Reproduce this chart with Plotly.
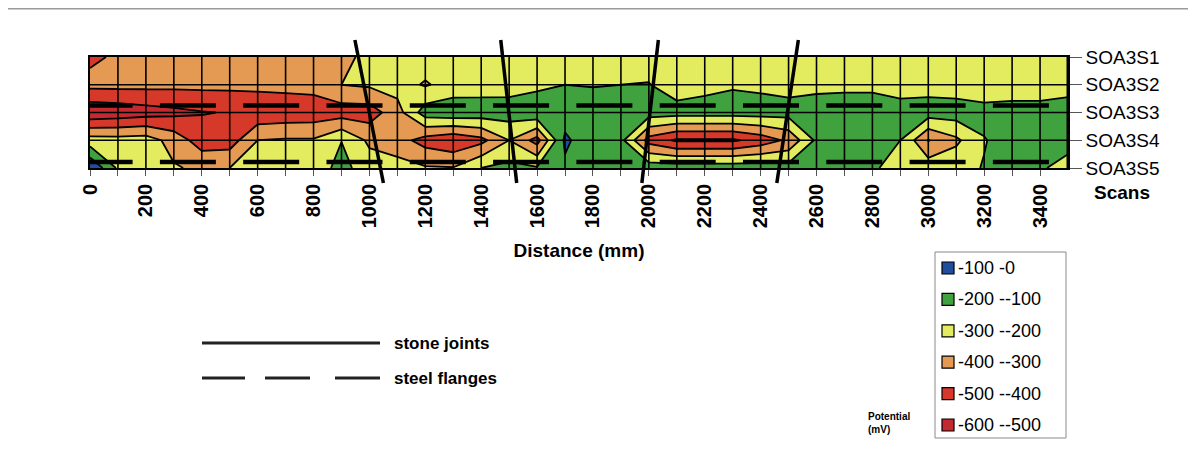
import plotly.graph_objects as go

# ---------------- data ----------------
distance_mm = [i * 100 for i in range(36)]          # 0 .. 3500
scan_pos = [1, 2, 3, 4, 5]
scan_labels = ["SOA3S1", "SOA3S2", "SOA3S3", "SOA3S4", "SOA3S5"]

soa3s1 = [-420, -385, -360, -360, -360, -360, -360, -360, -355, -320, -280, -255,
          -250, -250, -250, -250, -250, -250, -250, -250, -250, -250, -250, -250,
          -250, -250, -250, -250, -250, -250, -250, -250, -250, -250, -250, -250]
soa3s2 = [-370, -370, -372, -375, -375, -375, -375, -372, -365, -300, -285, -260,
          -310, -260, -250, -240, -225, -200, -205, -200, -195, -260, -230, -210,
          -220, -235, -225, -212, -212, -230, -240, -250, -255, -255, -255, -240]
soa3s3 = [-580, -565, -545, -525, -505, -495, -475, -465, -460, -450, -450, -340,
          -150, -130, -140, -150, -120, -150, -150, -150, -150, -155, -155, -155,
          -155, -160, -150, -170, -170, -170, -150, -150, -170, -160, -160, -150]
soa3s4 = [-255, -260, -250, -340, -450, -450, -300, -290, -290, -202, -320, -360,
          -440, -480, -430, -300, -440, -80, -170, -170, -440, -515, -515, -515,
          -460, -380, -180, -170, -180, -200, -405, -320, -205, -160, -160, -170]
soa3s5 = [-5, -215, -250, -290, -320, -300, -260, -250, -250, -170, -250, -260,
          -290, -295, -200, -170, -190, -120, -150, -160, -140, -140, -140, -140,
          -140, -160, -160, -180, -195, -215, -240, -230, -195, -185, -190, -230]

x_tick_vals = [i * 100 for i in range(35)]
x_tick_text = [str(v) if v % 200 == 0 else "" for v in x_tick_vals]

stone_joint_top_mm = [948, 1470, 2034, 2535]
stone_joint_bottom_mm = [1050, 1527, 1975, 2458]
steel_flange_rows = [2.75, 4.78]

band_labels = ["-100 -0", "-200 --100", "-300 --200", "-400 --300", "-500 --400", "-600 --500"]
band_colors = ["#1f4e9e", "#3fa23f", "#e3ec5e", "#e49a52", "#d6382a", "#c22a30"]

# ---------------- layout helpers ----------------
# page is rendered with an 8px body margin; plot area target in page px
OFF = 8
W, H = 1180, 450
PL, PR, PT, PB = 90, 1068, 57, 168


def px(xp):
    return (xp - PL) / (PR - PL)


def py(yp):
    return (PB - yp) / (PB - PT)


FONT = "Liberation Sans, Arial, Helvetica, sans-serif"

# stepped colour scale: band mid-points sit at k/7
fill_cols = [band_colors[5], band_colors[5], band_colors[4], band_colors[3],
             band_colors[2], band_colors[1], band_colors[0], band_colors[0]]
cscale = []
for k, c in enumerate(fill_cols):
    lo = max(0.0, (k - 0.5) / 7)
    hi = min(1.0, (k + 0.5) / 7)
    cscale.append([lo, c])
    cscale.append([hi, c])

fig = go.Figure()
fig.add_trace(go.Contour(
    x=distance_mm, y=scan_pos,
    z=[soa3s1, soa3s2, soa3s3, soa3s4, soa3s5],
    contours=dict(start=-600, end=0, size=100, coloring="fill", showlines=True),
    colorscale=cscale, showscale=False,
    line=dict(color="black", width=1.8, smoothing=0),
    hoverinfo="skip",
))

shapes = []
# grid drawn above the fill
for v in x_tick_vals[1:]:
    shapes.append(dict(type="line", xref="x", yref="paper", x0=v, x1=v, y0=0, y1=1,
                       line=dict(color="black", width=1.6), layer="above"))
for r in scan_pos[1:-1]:
    shapes.append(dict(type="line", xref="paper", yref="y", x0=0, x1=1, y0=r, y1=r,
                       line=dict(color="black", width=1.6), layer="above"))
# steel flanges
for r in steel_flange_rows:
    shapes.append(dict(type="line", xref="x", yref="y", x0=-48, x1=3600, y0=r, y1=r,
                       line=dict(color="black", width=4.5, dash="56px,27.3px"), layer="above"))
# stone joints
for xt, xb in zip(stone_joint_top_mm, stone_joint_bottom_mm):
    shapes.append(dict(type="line", xref="x", yref="paper", x0=xt, x1=xb,
                       y0=py(40), y1=py(183), line=dict(color="black", width=3.5), layer="above"))
# heavy right edge
shapes.append(dict(type="line", xref="paper", yref="paper", x0=1, x1=1, y0=0, y1=1,
                   line=dict(color="black", width=3)))
# top frame line of the page
shapes.append(dict(type="line", xref="paper", yref="paper", x0=px(OFF), x1=px(OFF + W), y0=py(8.8), y1=py(8.8),
                   line=dict(color="#9a9a9a", width=1.5)))

# line legend
shapes.append(dict(type="line", xref="paper", yref="paper", x0=px(202), x1=px(380),
                   y0=py(343), y1=py(343), line=dict(color="#222", width=3)))
for a, b in [(202, 245), (265, 310), (335, 380)]:
    shapes.append(dict(type="line", xref="paper", yref="paper", x0=px(a), x1=px(b),
                       y0=py(378), y1=py(378), line=dict(color="#222", width=3)))

# potential legend box
shapes.append(dict(type="rect", xref="paper", yref="paper", x0=px(935), x1=px(1066),
                   y0=py(252), y1=py(438), line=dict(color="#8a8a8a", width=1)))
annotations = []
for i, (lab, col) in enumerate(zip(band_labels, band_colors)):
    cy = 268 + 31.4 * i
    shapes.append(dict(type="rect", xref="paper", yref="paper", x0=px(942), x1=px(954),
                       y0=py(cy - 6), y1=py(cy + 6), fillcolor=col,
                       line=dict(color="black", width=1.2)))
    annotations.append(dict(xref="paper", yref="paper", x=px(956), y=py(cy), text=lab,
                            showarrow=False, xanchor="left", yanchor="middle",
                            font=dict(family=FONT, size=18, color="black")))

annotations += [
    dict(xref="paper", yref="paper", x=px(392), y=py(343), text="stone joints", showarrow=False,
         xanchor="left", yanchor="middle", font=dict(family=FONT, size=17, color="black", weight="bold")),
    dict(xref="paper", yref="paper", x=px(392), y=py(378), text="steel flanges", showarrow=False,
         xanchor="left", yanchor="middle", font=dict(family=FONT, size=17, color="black", weight="bold")),
    dict(xref="paper", yref="paper", x=px(866), y=py(423), text="Potential<br>(mV)", showarrow=False,
         xanchor="left", yanchor="middle", align="left",
         font=dict(family=FONT, size=10, color="black", weight="bold")),
    dict(xref="paper", yref="paper", x=px(1122), y=py(192), text="Scans", showarrow=False,
         xanchor="center", yanchor="middle", font=dict(family=FONT, size=19, color="black", weight="bold")),
]

fig.update_layout(
    width=W, height=H,
    margin=dict(l=PL - OFF, r=W - (PR - OFF), t=PT - OFF, b=H - (PB - OFF), autoexpand=False),
    paper_bgcolor="white", plot_bgcolor="white",
    showlegend=False,
    shapes=shapes, annotations=annotations,
    font=dict(family=FONT, color="black"),
    xaxis=dict(range=[0, 3500], tickvals=x_tick_vals, ticktext=x_tick_text, tickangle=-90,
               ticks="outside", ticklen=6, tickwidth=1, tickcolor="#555",
               tickfont=dict(family=FONT, size=20, color="black", weight="bold"),
               showgrid=False, zeroline=False, showline=True, linecolor="black", linewidth=1.5,
               mirror=True,
               title=dict(text="Distance (mm)", standoff=16,
                          font=dict(family=FONT, size=19, color="black", weight="bold"))),
    yaxis=dict(range=[5, 1], side="right", tickvals=scan_pos, ticktext=scan_labels,
               ticks="outside", ticklen=12, tickwidth=1, tickcolor="#555",
               tickfont=dict(family=FONT, size=19, color="black"),
               showgrid=False, zeroline=False, showline=True, linecolor="black", linewidth=1.5,
               mirror=True),
)

fig.write_html("out.html")
